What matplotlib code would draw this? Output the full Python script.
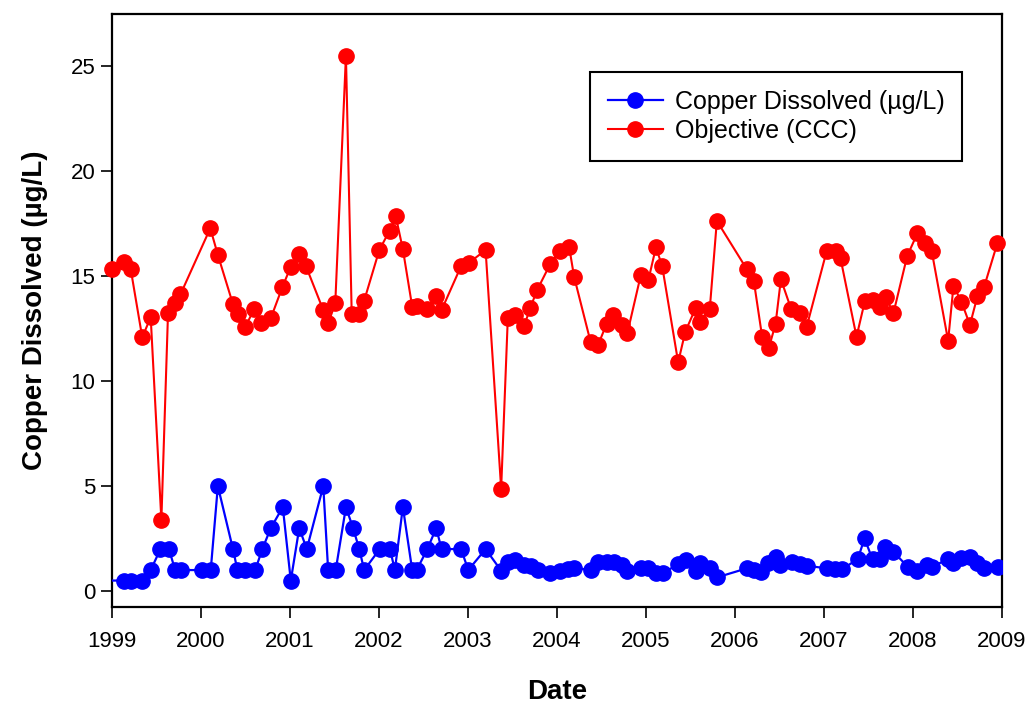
import matplotlib
matplotlib.use("Agg")
import matplotlib.pyplot as plt

plt.rcParams['font.family'] = ['Liberation Sans', 'DejaVu Sans']

# Sample dates (decimal years) and values
copper_dates = [1999.00, 1999.135, 1999.21, 1999.34, 1999.435, 1999.545, 1999.64, 1999.71, 1999.775,
                2000.01, 2000.11, 2000.19, 2000.36, 2000.41, 2000.49, 2000.61, 2000.69, 2000.785, 2000.92,
                2001.01, 2001.105, 2001.19, 2001.375, 2001.43, 2001.515, 2001.63, 2001.71, 2001.78, 2001.835,
                2002.01, 2002.125, 2002.18, 2002.27, 2002.375, 2002.425, 2002.545, 2002.645, 2002.705, 2002.925,
                2003.005, 2003.2, 2003.375, 2003.45, 2003.53, 2003.635, 2003.71, 2003.785, 2003.925,
                2004.035, 2004.13, 2004.195, 2004.38, 2004.46, 2004.56, 2004.645, 2004.73, 2004.795, 2004.945,
                2005.03, 2005.115, 2005.195, 2005.365, 2005.45, 2005.56, 2005.615, 2005.72, 2005.8,
                2006.135, 2006.215, 2006.30, 2006.375, 2006.46, 2006.51, 2006.64, 2006.735, 2006.81,
                2007.035, 2007.13, 2007.205, 2007.385, 2007.46, 2007.55, 2007.635, 2007.69, 2007.785, 2007.945,
                2008.055, 2008.16, 2008.215, 2008.40, 2008.46, 2008.55, 2008.645, 2008.72, 2008.805, 2008.965]
copper_values = [0.5, 0.5, 0.5, 0.5, 1, 2, 2, 1, 1,
                 1, 1, 5, 2, 1, 1, 1, 2, 3, 4,
                 0.5, 3, 2, 5, 1, 1, 4, 3, 2, 1,
                 2, 2, 1, 4, 1, 1, 2, 3, 2, 2,
                 1, 2, 0.97, 1.4, 1.5, 1.24, 1.19, 1.0, 0.87,
                 0.97, 1.03, 1.11, 1.0, 1.4, 1.4, 1.4, 1.24, 0.97, 1.08,
                 1.08, 0.87, 0.87, 1.27, 1.48, 0.97, 1.32, 1.08, 0.65,
                 1.08, 1.0, 0.92, 1.32, 1.63, 1.24, 1.4, 1.29, 1.21,
                 1.08, 1.03, 1.03, 1.53, 2.51, 1.51, 1.51, 2.11, 1.87, 1.16,
                 0.97, 1.24, 1.16, 1.51, 1.32, 1.56, 1.63, 1.35, 1.08, 1.16]

ccc_dates = [1999.00, 1999.135, 1999.21, 1999.34, 1999.435, 1999.555, 1999.63, 1999.705, 1999.77,
             2000.105, 2000.19, 2000.36, 2000.415, 2000.495, 2000.60, 2000.68, 2000.785, 2000.915,
             2001.01, 2001.105, 2001.18, 2001.375, 2001.43, 2001.51, 2001.63, 2001.695, 2001.78, 2001.835,
             2002.005, 2002.12, 2002.19, 2002.27, 2002.375, 2002.425, 2002.545, 2002.645, 2002.705, 2002.925,
             2003.015, 2003.20, 2003.375, 2003.45, 2003.53, 2003.635, 2003.70, 2003.78, 2003.925,
             2004.035, 2004.14, 2004.195, 2004.38, 2004.465, 2004.56, 2004.635, 2004.73, 2004.795, 2004.945,
             2005.03, 2005.115, 2005.185, 2005.365, 2005.445, 2005.56, 2005.615, 2005.72, 2005.80,
             2006.135, 2006.215, 2006.31, 2006.385, 2006.46, 2006.52, 2006.635, 2006.735, 2006.81,
             2007.035, 2007.135, 2007.19, 2007.37, 2007.465, 2007.56, 2007.635, 2007.70, 2007.785, 2007.94,
             2008.055, 2008.14, 2008.215, 2008.40, 2008.46, 2008.55, 2008.645, 2008.73, 2008.805, 2008.955]
ccc_values = [15.33, 15.7, 15.35, 12.09, 13.05, 3.38, 13.27, 13.71, 14.14,
              17.29, 16.02, 13.67, 13.2, 12.58, 13.43, 12.76, 13.0, 14.48,
              15.46, 16.06, 15.49, 13.39, 12.76, 13.71, 25.52, 13.19, 13.19, 13.84,
              16.25, 17.17, 17.86, 16.29, 13.55, 13.58, 13.43, 14.06, 13.39, 15.49,
              15.65, 16.25, 4.88, 13.03, 13.16, 12.65, 13.47, 14.35, 15.57,
              16.2, 16.38, 14.98, 11.88, 11.73, 12.73, 13.16, 12.68, 12.31, 15.06,
              14.82, 16.38, 15.49, 10.9, 12.36, 13.47, 12.84, 13.43, 17.64,
              15.35, 14.79, 12.09, 11.6, 12.73, 14.86, 13.44, 13.27, 12.6,
              16.21, 16.21, 15.86, 12.12, 13.84, 13.87, 13.52, 14.0, 13.24, 15.97,
              17.05, 16.57, 16.21, 11.93, 14.54, 13.79, 12.68, 14.06, 14.5, 16.6]

x_ticks = list(range(1999, 2010))
y_ticks = [0, 5, 10, 15, 20, 25]
series_labels = ['Copper Dissolved (\u00b5g/L)', 'Objective (CCC)']

fig = plt.figure(figsize=(10.27, 7.11), dpi=100)
ax = fig.add_axes([112/1027, 1 - 607/711, (1001.5 - 112)/1027, (607 - 14)/711])

ax.plot(copper_dates, copper_values, color='#0000ff', lw=1.6, marker='o', ms=11,
        markevery=slice(1, None), label=series_labels[0], zorder=3)
ax.plot(ccc_dates, ccc_values, color='#ff0000', lw=1.5, marker='o', ms=11,
        label=series_labels[1], zorder=3, clip_on=False)

ax.set_xlim(1999, 2009)
ax.set_ylim(-0.76, 27.5)
ax.set_xticks(x_ticks)
ax.set_xticklabels([str(t) for t in x_ticks])
ax.set_yticks(y_ticks)
ax.tick_params(direction='out', length=8, width=1.2, labelsize=16, colors='black')
ax.tick_params(axis='x', pad=9)
ax.tick_params(axis='y', pad=4)
for s in ax.spines.values():
    s.set_linewidth(1.6)

ax.set_xlabel('Date', fontsize=20, fontweight='bold', labelpad=20)
ax.set_ylabel('Copper Dissolved (\u00b5g/L)', fontsize=20, fontweight='bold', labelpad=16)

leg = ax.legend(loc='upper left', bbox_to_anchor=(590/1027, 1 - 72/711),
                bbox_transform=fig.transFigure, fontsize=18, frameon=True,
                fancybox=False, framealpha=1, edgecolor='black', borderaxespad=0,
                handlelength=2.2, handletextpad=0.5, labelspacing=0.22, borderpad=0.7)
leg.get_frame().set_linewidth(1.5)

fig.savefig('out.png', dpi=100)
